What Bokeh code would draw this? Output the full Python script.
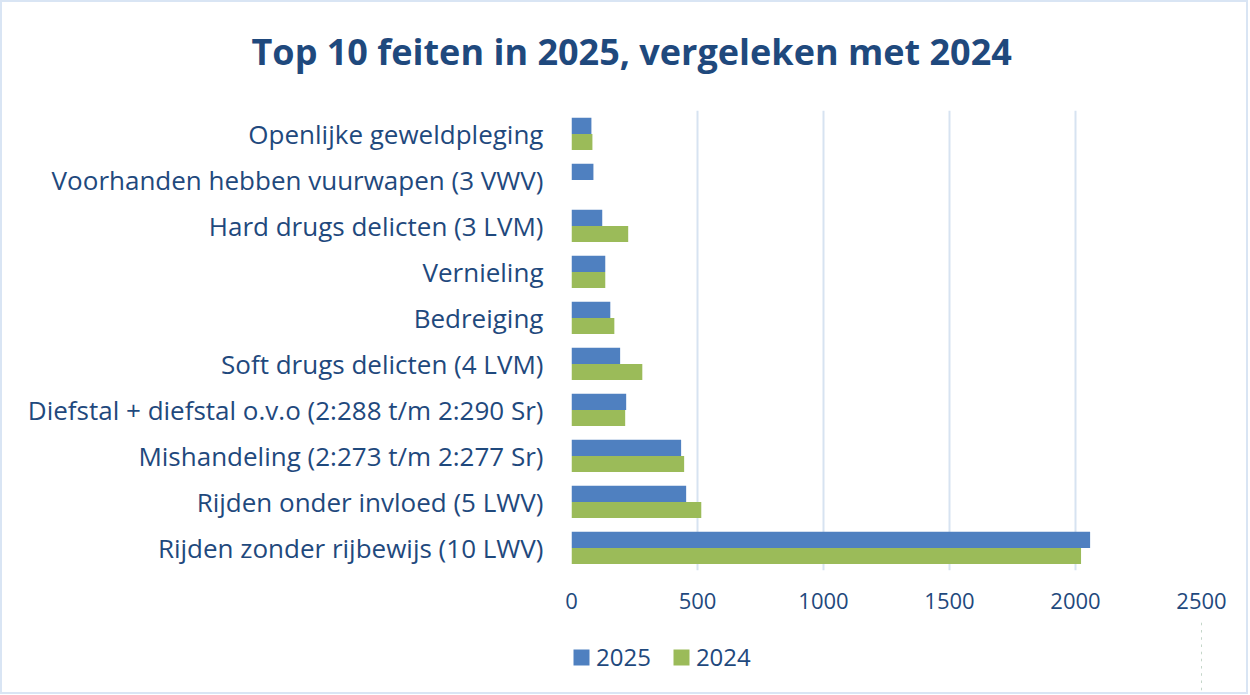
from bokeh.plotting import figure
from bokeh.layouts import column
from bokeh.models import ColumnDataSource, FactorRange, Legend, LegendItem, Range1d, FixedTicker, Title
from bokeh.transform import dodge
from bokeh.embed import file_html
from bokeh.resources import INLINE

categories = [
    "Openlijke geweldpleging",
    "Voorhanden hebben vuurwapen (3 VWV)",
    "Hard drugs delicten (3 LVM)",
    "Vernieling",
    "Bedreiging",
    "Soft drugs delicten (4 LVM)",
    "Diefstal + diefstal o.v.o (2:288 t/m 2:290 Sr)",
    "Mishandeling (2:273 t/m 2:277 Sr)",
    "Rijden onder invloed (5 LWV)",
    "Rijden zonder rijbewijs (10 LWV)",
]
values_2025 = [79, 87, 122, 134, 154, 193, 217, 435, 455, 2058]
values_2024 = [83, 0, 225, 134, 170, 281, 213, 447, 515, 2022]
x_ticks = [0, 500, 1000, 1500, 2000, 2500]
series_labels = ["2025", "2024"]
title_text = "Top 10 feiten in 2025, vergeleken met 2024"

TEXT = "#1F497D"
BLUE = "#4F80C0"
GREEN = "#9BBB59"
FONT = "Open Sans"

source = ColumnDataSource(dict(cat=categories, v2025=values_2025, v2024=values_2024))

p = figure(
    frame_width=630, frame_height=460,
    y_range=FactorRange(*reversed(categories)),
    x_range=Range1d(0, 2500),
    output_backend="svg", toolbar_location=None,
    min_border_left=569, min_border_right=45,
    min_border_top=108, min_border_bottom=50,
)
p.outline_line_color = None

# spacer between frame and title, then the title itself (outer)
p.add_layout(Title(text=" ", text_font_size="8px", standoff=2), "above")
p.add_layout(Title(text=title_text, align="left", offset=-320, text_font=FONT,
                   text_font_size="36px", text_font_style="bold", text_color=TEXT,
                   vertical_align="top", standoff=40), "above")

p.hbar(y=dodge("cat", 0.165, range=p.y_range), right="v2025", height=0.35,
       left=0, source=source, fill_color=BLUE, line_color=None)
p.hbar(y=dodge("cat", -0.185, range=p.y_range), right="v2024", height=0.35,
       left=0, source=source, fill_color=GREEN, line_color=None)

p.ygrid.grid_line_color = None
p.xgrid.grid_line_color = "#D7E3F1"
p.xgrid.grid_line_width = 2
p.xaxis.ticker = FixedTicker(ticks=x_ticks)
p.xaxis.axis_line_color = None
p.xaxis.major_tick_line_color = None
p.xaxis.minor_tick_line_color = None
p.xaxis.major_label_text_font = FONT
p.xaxis.major_label_text_font_size = "22px"
p.xaxis.major_label_text_color = TEXT
p.xaxis.major_label_standoff = 16

p.yaxis.axis_line_color = None
p.yaxis.major_tick_line_color = None
p.yaxis.minor_tick_line_color = None
p.yaxis.major_label_text_font = FONT
p.yaxis.major_label_text_font_size = "26px"
p.yaxis.major_label_text_color = TEXT
p.yaxis.major_label_standoff = 22

# legend strip below the chart (its own small canvas)
q = figure(
    width=1244, height=72,
    y_range=FactorRange(*reversed(categories)),
    x_range=Range1d(-20, -10),
    output_backend="svg", toolbar_location=None,
    min_border=0, x_axis_location=None, y_axis_location=None,
)
q.outline_line_color = None
q.grid.grid_line_color = None
l1 = q.hbar(y="cat", right="v2025", left=0, height=0.35, source=source,
            fill_color=BLUE, line_color=None)
l2 = q.hbar(y="cat", right="v2024", left=0, height=0.35, source=source,
            fill_color=GREEN, line_color=None)
legend = Legend(items=[LegendItem(label=series_labels[0], renderers=[l1]),
                       LegendItem(label=series_labels[1], renderers=[l2])],
                orientation="horizontal", location=(0, 19),
                padding=0, margin=0,
                label_text_font=FONT, label_text_font_size="24px",
                label_text_color=TEXT, glyph_width=20, glyph_height=20,
                spacing=20, border_line_color=None, background_fill_alpha=0,
                label_standoff=5)
q.add_layout(legend, "center")

page = column(p, q, spacing=0, styles={"border": "2px solid #D9E5F4"})

open("out.html", "w").write(file_html(page, INLINE))
